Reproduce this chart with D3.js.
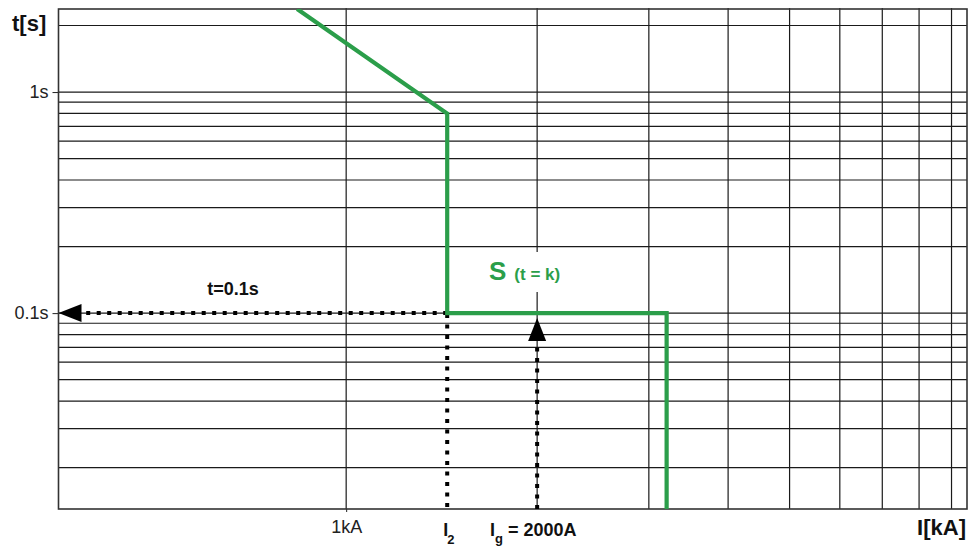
<!DOCTYPE html>
<html>
<head>
<meta charset="utf-8">
<script src="https://cdn.jsdelivr.net/npm/d3@7"></script>
<style>
  html, body { margin: 0; padding: 0; background: #fff; }
  svg { display: block; font-family: "Liberation Sans", Arial, Helvetica, sans-serif; }
</style>
</head>
<body>
<svg id="chart" width="971" height="548"></svg>
<script>
// ---- data ----
const xDomain = [352, 9520];            // current in A (plot edges)
const yDomain = [2.375, 0.013];         // time in s (plot edges, top -> bottom)
const xGridValues = [1000, 2000, 3000, 4000, 5000, 6000, 7000, 8000, 9000];
const yGridValues = [2, 1, 0.9, 0.8, 0.7, 0.6, 0.5, 0.4, 0.3, 0.2,
                     0.1, 0.09, 0.08, 0.07, 0.06, 0.05, 0.04, 0.03, 0.02];
const xTickValues = [1000];
const xTickLabels = ["1kA"];
const yTickValues = [1, 0.1];
const yTickLabels = ["1s", "0.1s"];
const curveI = [837, 1443, 1443, 3200, 3200];
const curveT = [2.375, 0.8, 0.1, 0.1, 0.013];
const I2 = 1443;
const Ig = 2000;
const tSet = 0.1;

// ---- layout ----
const svg = d3.select("#chart");
const pL = 58.5, pR = 967, pT = 9, pB = 509;
const green = "#2b9e4a";

const x = d3.scaleLog().domain(xDomain).range([pL, pR]);
const y = d3.scaleLog().domain(yDomain).range([pT, pB]);

svg.append("defs").append("clipPath").attr("id", "clip")
  .append("rect").attr("x", pL).attr("y", pT)
  .attr("width", pR - pL).attr("height", pB - pT);

// grid
const grid = svg.append("g");
grid.selectAll("line.h").data(yGridValues).join("line")
  .attr("class", "h")
  .attr("x1", pL).attr("x2", pR)
  .attr("y1", d => y(d)).attr("y2", d => y(d))
  .attr("stroke", "#1a1a1a").attr("stroke-width", 1.2);
grid.selectAll("line.v").data(xGridValues).join("line")
  .attr("class", "v")
  .attr("x1", d => x(d)).attr("x2", d => x(d))
  .attr("y1", pT - 1).attr("y2", pB)
  .attr("stroke", "#1a1a1a").attr("stroke-width", 1.2);

// axes (ticks + labels)
const yAxis = d3.axisLeft(y).tickValues(yTickValues)
  .tickFormat((d, i) => yTickLabels[i]).tickSize(6).tickPadding(4);
const gy = svg.append("g").attr("transform", `translate(${pL},0)`).call(yAxis);
gy.attr("font-size", null).attr("font-family", null);
gy.select(".domain").remove();
gy.selectAll("line").attr("stroke", "#222");
gy.selectAll("text").style("font-size", "18px").attr("fill", "#222");

const xAxis = d3.axisBottom(x).tickValues(xTickValues)
  .tickFormat((d, i) => xTickLabels[i]).tickSize(3).tickPadding(8);
const gx = svg.append("g").attr("transform", `translate(0,${pB})`).call(xAxis);
gx.attr("font-size", null).attr("font-family", null);
gx.select(".domain").remove();
gx.selectAll("line").attr("stroke", "#222");
gx.selectAll("text").style("font-size", "18px").attr("fill", "#222");

// border
svg.append("rect").attr("x", pL).attr("y", pT)
  .attr("width", pR - pL).attr("height", pB - pT)
  .attr("fill", "none").attr("stroke", "#333").attr("stroke-width", 1.6);

// axis titles
svg.append("text").attr("x", 12).attr("y", 31)
  .style("font-size", "22px").attr("font-weight", "bold").attr("fill", "#111").text("t[s]");
svg.append("text").attr("x", 966).attr("y", 535).attr("text-anchor", "end")
  .style("font-size", "22px").attr("font-weight", "bold").attr("fill", "#111").text("I[kA]");

// dotted construction lines
const dotted = svg.append("g").attr("fill", "none").attr("stroke", "#000")
  .attr("stroke-width", 4).attr("stroke-dasharray", "4,6.5");
const arrowLen = 23, arrowHalf = 9;
// horizontal: from I2 to the t axis
dotted.append("line")
  .attr("x1", x(I2)).attr("x2", x(xDomain[0]) + arrowLen - 2)
  .attr("y1", y(tSet)).attr("y2", y(tSet));
// vertical at I2
dotted.append("line")
  .attr("x1", x(I2)).attr("x2", x(I2))
  .attr("y1", y(tSet) + 1).attr("y2", pB);
// vertical at Ig
dotted.append("line")
  .attr("x1", x(Ig)).attr("x2", x(Ig))
  .attr("y1", pB).attr("y2", y(tSet) + 5 + arrowLen - 2);

// arrowheads
const ax0 = x(xDomain[0]), ay0 = y(tSet);
svg.append("path")
  .attr("d", `M${ax0},${ay0} L${ax0 + arrowLen},${ay0 - arrowHalf} L${ax0 + arrowLen},${ay0 + arrowHalf} Z`)
  .attr("fill", "#000");
const bx0 = x(Ig), by0 = y(tSet) + 5;
svg.append("path")
  .attr("d", `M${bx0},${by0} L${bx0 - arrowHalf},${by0 + arrowLen} L${bx0 + arrowHalf},${by0 + arrowLen} Z`)
  .attr("fill", "#000");

// green trip curve
const line = d3.line().x(d => x(d[0])).y(d => y(d[1]));
svg.append("path")
  .datum(curveI.map((v, i) => [v, curveT[i]]))
  .attr("clip-path", "url(#clip)")
  .attr("d", line)
  .attr("fill", "none").attr("stroke", green).attr("stroke-width", 4.2)
  .attr("stroke-linejoin", "miter");

// S (t = k) label with white background
const lab = svg.append("g");
const bg = lab.append("rect").attr("fill", "#fff");
const labT = lab.append("text").attr("x", 489).attr("y", 280)
  .attr("fill", green).attr("font-weight", "bold");
labT.append("tspan").style("font-size", "26px").text("S");
labT.append("tspan").style("font-size", "17px").attr("dx", 8).text("(t = k)");
const bb = labT.node().getBBox();
bg.attr("x", bb.x - 4).attr("y", bb.y - 4).attr("width", bb.width + 8).attr("height", bb.height + 10);

// t=0.1s label
svg.append("text").attr("x", 233).attr("y", 295).attr("text-anchor", "middle")
  .style("font-size", "18px").attr("font-weight", "bold").attr("fill", "#111").text("t=0.1s");

// I2 and Ig labels
const tI2 = svg.append("text").attr("x", x(I2) - 4).attr("y", 536)
  .style("font-size", "18px").attr("font-weight", "bold").attr("fill", "#111");
tI2.append("tspan").text("I");
tI2.append("tspan").style("font-size", "13px").attr("dy", 8).attr("dx", -1).text("2");

const tIg = svg.append("text").attr("x", 490).attr("y", 536)
  .style("font-size", "18px").attr("font-weight", "bold").attr("fill", "#111");
tIg.append("tspan").text("I");
tIg.append("tspan").style("font-size", "13px").attr("dy", 7).attr("dx", 0).text("g");
tIg.append("tspan").attr("dy", -7).text(" = " + Ig + "A");
</script>
</body>
</html>
